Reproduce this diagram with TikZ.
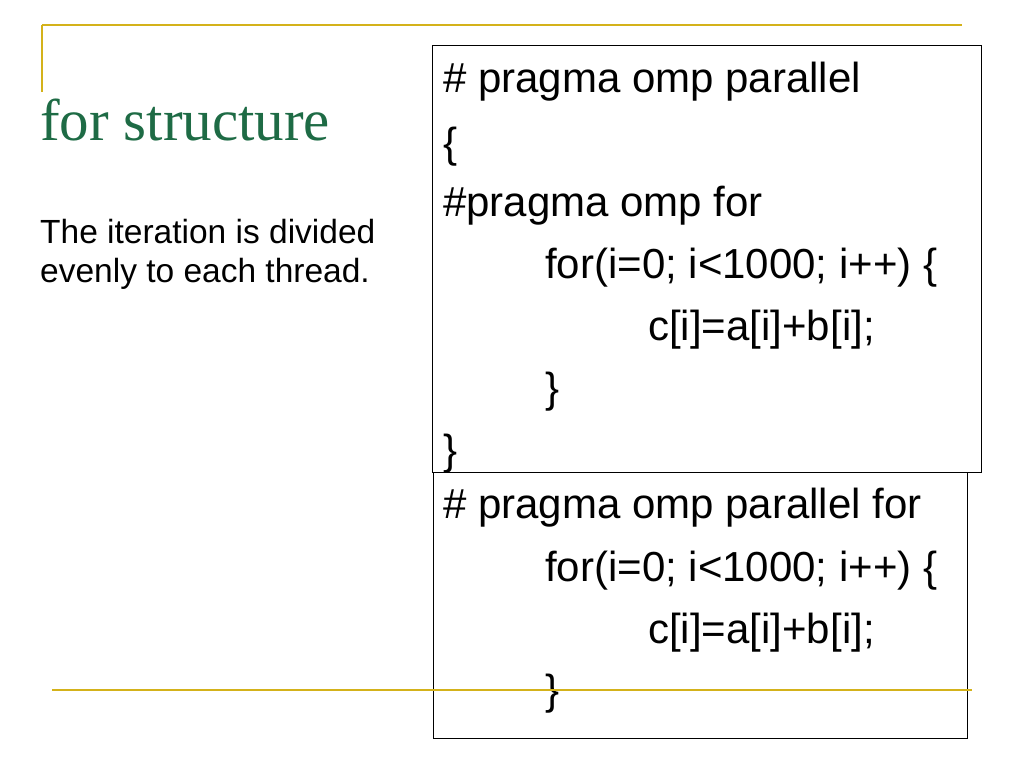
\documentclass[tikz,border=0pt]{standalone}
\usepackage{fontspec}
\setmainfont{Liberation Sans}
\newfontfamily\titlefont{Liberation Serif}
\definecolor{gold}{HTML}{D4B21A}
\definecolor{ttl}{HTML}{1E6B45}
\begin{document}
\begin{tikzpicture}[x=1pt,y=-1pt,
  code/.style={anchor=base west,inner sep=0pt,font=\fontsize{42}{46}\selectfont},
  body/.style={anchor=base west,inner sep=0pt,font=\fontsize{33.5}{38}\selectfont},
  rule/.style={draw=gold,line width=1.5pt}]
\useasboundingbox (0,0) rectangle (1024,768);
\draw[rule] (42,25) -- (962,25);
\draw[rule] (42,25) -- (42,92);
\node[anchor=base west,inner sep=0pt,text=ttl,font=\titlefont\fontsize{59}{64}\selectfont] (title) at (40,140) {for structure};
\node[body] (b1) at (40,243) {The iteration is divided};
\node[body] (b2) at (40,282) {evenly to each thread.};
\node[draw,fill=white,minimum width=534pt,minimum height=266pt,anchor=north west,inner sep=0pt,line width=0.8pt] (box2) at (433,472) {};
\node[draw,fill=white,minimum width=549pt,minimum height=427pt,anchor=north west,inner sep=0pt,line width=0.8pt] (box1) at (432,45) {};
\node[code] (l1) at (443,92) {\# pragma omp parallel};
\node[code] (l2) at (443,157) {\{};
\node[code] (l3) at (443,216) {\#pragma omp for};
\node[code] (l4) at (545,278) {for(i=0; i<1000; i++) \{};
\node[code] (l5) at (648,340) {c[i]=a[i]+b[i];};
\node[code] (l6) at (545,402) {\}};
\node[code] (l7) at (443,464) {\}};
\node[code] (m1) at (443,518) {\# pragma omp parallel for};
\node[code] (m2) at (545,581) {for(i=0; i<1000; i++) \{};
\node[code] (m3) at (648,643) {c[i]=a[i]+b[i];};
\node[code] (m4) at (545,704) {\}};
\draw[rule] (52,690) -- (972,690);
\end{tikzpicture}
\end{document}
